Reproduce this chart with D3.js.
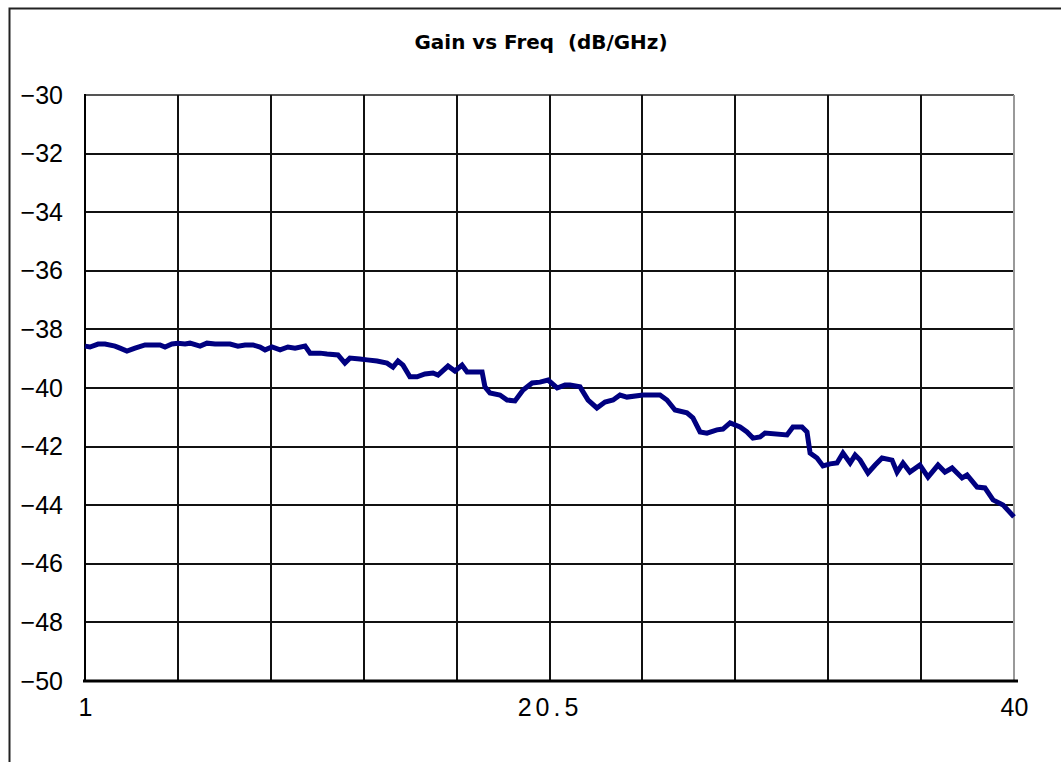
<!DOCTYPE html>
<html>
<head>
<meta charset="utf-8">
<script src="https://cdn.jsdelivr.net/npm/d3@7"></script>
<style>
  html, body { margin: 0; padding: 0; background: #fff; }
  svg { display: block; }
</style>
</head>
<body>
<svg id="chart" width="1061" height="762"></svg>
<script>
// ---- data ----
const freq = [1.00,1.21,1.55,1.84,2.26,2.47,2.76,3.10,3.52,4.15,4.36,4.65,4.90,5.20,5.41,5.83,6.12,6.46,7.09,7.42,
  7.72,8.05,8.35,8.56,8.85,9.19,9.52,9.82,10.24,10.45,10.87,11.16,11.62,11.91,12.12,12.54,12.84,13.26,13.68,13.93,
  14.14,14.35,14.64,14.94,15.27,15.61,15.82,16.24,16.53,16.83,17.04,17.25,17.67,17.79,18.00,18.42,18.72,19.05,19.39,19.77,
  20.10,20.44,20.82,21.15,21.36,21.78,22.12,22.49,22.83,23.17,23.46,23.75,24.43,25.14,25.43,25.77,26.27,26.52,26.82,27.11,
  27.53,27.78,28.08,28.50,28.79,29.04,29.34,29.55,30.47,30.72,31.10,31.31,31.44,31.73,31.98,32.28,32.57,32.82,33.12,33.33,
  33.54,33.87,34.17,34.46,34.88,35.09,35.34,35.63,36.05,36.39,36.81,37.10,37.40,37.82,38.03,38.45,38.78,39.12,39.54,40.00];
const gain = [-38.57,-38.60,-38.50,-38.50,-38.57,-38.64,-38.74,-38.64,-38.53,-38.53,-38.60,-38.50,-38.47,-38.50,-38.47,-38.57,-38.47,-38.50,-38.50,-38.57,
  -38.53,-38.53,-38.60,-38.70,-38.60,-38.70,-38.60,-38.64,-38.57,-38.81,-38.81,-38.84,-38.87,-39.15,-38.98,-39.01,-39.04,-39.08,-39.15,-39.29,
  -39.08,-39.22,-39.62,-39.62,-39.52,-39.49,-39.56,-39.25,-39.42,-39.22,-39.45,-39.45,-39.45,-39.96,-40.17,-40.24,-40.41,-40.44,-40.07,-39.83,
  -39.80,-39.73,-40.00,-39.90,-39.90,-39.96,-40.41,-40.68,-40.48,-40.41,-40.24,-40.31,-40.24,-40.24,-40.41,-40.75,-40.85,-41.02,-41.50,-41.54,
  -41.43,-41.40,-41.19,-41.33,-41.50,-41.71,-41.67,-41.54,-41.60,-41.33,-41.33,-41.50,-42.22,-42.39,-42.66,-42.59,-42.56,-42.22,-42.56,-42.29,
  -42.46,-42.90,-42.63,-42.39,-42.46,-42.87,-42.56,-42.87,-42.63,-43.04,-42.63,-42.87,-42.73,-43.07,-42.97,-43.38,-43.41,-43.82,-43.99,-44.40];
const xTickLabels = [1, 20.5, 40];
const xGridValues = [1, 4.9, 8.8, 12.7, 16.6, 20.5, 24.4, 28.3, 32.2, 36.1, 40];
const yTickValues = [-50, -48, -46, -44, -42, -40, -38, -36, -34, -32, -30];
const title = "Gain vs Freq\u00a0\u00a0(dB/GHz)";

// ---- layout ----
const svg = d3.select("#chart");
const L = 85, R = 1014, T = 95, B = 681;
const x = d3.scaleLinear().domain([1, 40]).range([L, R]);
const y = d3.scaleLinear().domain([-50, -30]).range([B, T]);

svg.append("rect").attr("width", 1061).attr("height", 762).attr("fill", "#fff");

// outer frame
svg.append("path").attr("d", "M9.5,762V8.5H1061")
  .attr("fill", "none").attr("stroke", "#222").attr("stroke-width", 2);

// title
svg.append("text")
  .attr("x", 541).attr("y", 49)
  .attr("text-anchor", "middle")
  .attr("font-family", "'DejaVu Sans', sans-serif")
  .attr("font-weight", "bold")
  .attr("font-size", 20)
  .attr("textLength", 253)
  .attr("lengthAdjust", "spacingAndGlyphs")
  .attr("fill", "#000")
  .text(title);

// grid
const grid = svg.append("g");
grid.selectAll("line.h").data(yTickValues).join("line")
  .attr("x1", L).attr("x2", R)
  .attr("y1", d => Math.round(y(d))).attr("y2", d => Math.round(y(d)))
  .attr("stroke", d => d === -30 ? "#555" : "#111").attr("stroke-width", 2);
grid.selectAll("line.v").data(xGridValues).join("line")
  .attr("y1", T).attr("y2", B)
  .attr("x1", d => Math.round(x(d))).attr("x2", d => Math.round(x(d)))
  .attr("stroke", d => d === 40 ? "#999" : "#111").attr("stroke-width", 2);

// y axis labels
const yAxis = d3.axisLeft(y).tickValues(yTickValues).tickSize(0).tickPadding(22)
  .tickFormat(d3.format("d"));
const gy = svg.append("g").attr("transform", `translate(${L},0)`).call(yAxis);
gy.select(".domain").remove();
gy.selectAll("text").attr("font-family", "'Liberation Sans', Arial, sans-serif")
  .attr("font-size", 25).attr("fill", "#000");

// x axis labels
const xAxis = d3.axisBottom(x).tickValues(xTickLabels).tickSize(0).tickPadding(17)
  .tickFormat(d => String(d));
const gx = svg.append("g").attr("transform", `translate(0,${B})`).call(xAxis);
gx.select(".domain").remove();
gx.selectAll("text").attr("font-family", "'Liberation Sans', Arial, sans-serif")
  .attr("font-size", 25).attr("fill", "#000")
  .attr("letter-spacing", d => d === 20.5 ? 4 : 0);

// bottom axis line (thick)
svg.append("line").attr("x1", L - 2).attr("x2", R + 4).attr("y1", B).attr("y2", B)
  .attr("stroke", "#000").attr("stroke-width", 3);
// left axis line
svg.append("line").attr("x1", L).attr("x2", L).attr("y1", T - 1).attr("y2", B)
  .attr("stroke", "#000").attr("stroke-width", 2);

// data line
const pts = freq.map((f, i) => [f, gain[i]]);
svg.append("path")
  .datum(pts)
  .attr("fill", "none")
  .attr("stroke", "#000080")
  .attr("stroke-width", 5)
  .attr("stroke-linejoin", "miter")
  .attr("d", d3.line().x(d => x(d[0])).y(d => y(d[1])));
</script>
</body>
</html>
